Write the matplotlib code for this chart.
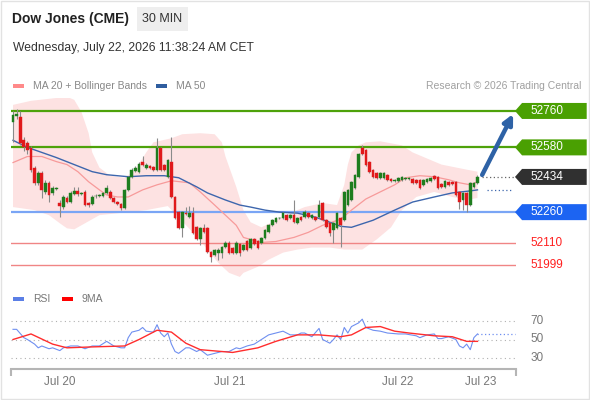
import matplotlib
matplotlib.use("Agg")
import matplotlib.pyplot as plt
from matplotlib.patches import Polygon, Rectangle
from matplotlib.transforms import blended_transform_factory
import numpy as np

plt.rcParams["font.family"] = ["Liberation Sans", "DejaVu Sans"]

# 30 min candles, Dow Jones (CME)
opens = [52705, 52735, 52730, 52615, 52600, 52575, 52480, 52405, 52455, 52360,
         52405, 52355, 52375, 52305, 52285, 52330, 52310, 52350, 52365, 52350,
         52360, 52305, 52300, 52338, 52342, 52340, 52355, 52360, 52330, 52310,
         52300, 52280, 52370, 52435, 52465, 52460, 52510, 52480, 52490, 52485,
         52470, 52575, 52495, 52435, 52510, 52335, 52260, 52180, 52258, 52235,
         52255, 52185, 52125, 52180, 52180, 52065, 52050, 52060, 52060, 52090,
         52110, 52085, 52060, 52105, 52075, 52115, 52085, 52125, 52115, 52110,
         52130, 52160, 52195, 52210, 52230, 52230, 52245, 52230, 52245, 52205,
         52235, 52235, 52255, 52230, 52235, 52235, 52305, 52220, 52205, 52170,
         52180, 52230, 52220, 52295, 52320, 52380, 52435, 52575, 52565, 52510,
         52470, 52455, 52430, 52430, 52445, 52425, 52415, 52415, 52418, 52426,
         52426, 52425, 52420, 52420, 52395, 52410, 52415, 52440, 52435, 52400,
         52385, 52410, 52410, 52410, 52360, 52320, 52355, 52295, 52385, 52405]
closes = [52740, 52745, 52600, 52580, 52565, 52470, 52405, 52455, 52370, 52405,
          52345, 52380, 52378, 52290, 52335, 52310, 52355, 52365, 52350, 52355,
          52295, 52295, 52335, 52340, 52345, 52355, 52380, 52330, 52310, 52300,
          52280, 52370, 52435, 52470, 52480, 52500, 52495, 52495, 52480, 52470,
          52575, 52470, 52470, 52520, 52335, 52230, 52180, 52260, 52250, 52255,
          52155, 52125, 52180, 52160, 52065, 52040, 52075, 52075, 52090, 52110,
          52060, 52060, 52110, 52060, 52100, 52075, 52125, 52105, 52085, 52130,
          52170, 52195, 52220, 52230, 52232, 52255, 52220, 52245, 52210, 52230,
          52220, 52260, 52235, 52245, 52220, 52295, 52220, 52185, 52155, 52205,
          52255, 52195, 52360, 52370, 52410, 52445, 52545, 52545, 52495, 52460,
          52435, 52430, 52455, 52455, 52420, 52415, 52417, 52430, 52432, 52428,
          52428, 52405, 52405, 52380, 52420, 52425, 52430, 52425, 52380, 52385,
          52415, 52395, 52400, 52345, 52310, 52355, 52295, 52405, 52405, 52434]
highs = [52760, 52770, 52760, 52630, 52610, 52585, 52490, 52465, 52465, 52420,
         52415, 52390, 52385, 52320, 52345, 52340, 52365, 52385, 52385, 52362,
         52370, 52310, 52345, 52348, 52350, 52362, 52395, 52370, 52335, 52315,
         52305, 52375, 52440, 52480, 52490, 52510, 52535, 52505, 52495, 52490,
         52625, 52580, 52500, 52525, 52630, 52340, 52265, 52265, 52285, 52290,
         52285, 52190, 52185, 52200, 52185, 52070, 52080, 52085, 52095, 52115,
         52115, 52090, 52115, 52110, 52105, 52120, 52130, 52130, 52120, 52135,
         52175, 52200, 52225, 52235, 52238, 52260, 52250, 52250, 52320, 52235,
         52240, 52270, 52260, 52250, 52240, 52320, 52310, 52225, 52210, 52210,
         52260, 52235, 52365, 52375, 52415, 52450, 52550, 52590, 52570, 52515,
         52475, 52460, 52460, 52460, 52450, 52430, 52422, 52435, 52437, 52433,
         52433, 52430, 52425, 52425, 52425, 52430, 52435, 52445, 52440, 52405,
         52420, 52415, 52415, 52415, 52365, 52360, 52360, 52410, 52410, 52445]
lows = [52605, 52720, 52590, 52560, 52545, 52460, 52395, 52395, 52330, 52350,
        52310, 52345, 52370, 52235, 52275, 52305, 52305, 52345, 52340, 52345,
        52290, 52285, 52295, 52330, 52335, 52335, 52350, 52325, 52305, 52295,
        52270, 52275, 52365, 52430, 52460, 52455, 52490, 52475, 52475, 52465,
        52465, 52465, 52465, 52430, 52330, 52225, 52175, 52135, 52245, 52230,
        52150, 52120, 52100, 52155, 52060, 52015, 52045, 52025, 52035, 52085,
        52055, 52055, 52055, 52045, 52070, 52070, 52080, 52100, 52080, 52105,
        52125, 52155, 52190, 52205, 52225, 52225, 52215, 52225, 52205, 52200,
        52215, 52230, 52230, 52225, 52215, 52230, 52215, 52180, 52140, 52110,
        52175, 52090, 52215, 52290, 52315, 52375, 52430, 52540, 52490, 52455,
        52430, 52425, 52425, 52425, 52415, 52410, 52410, 52410, 52413, 52421,
        52421, 52400, 52400, 52375, 52390, 52405, 52410, 52420, 52375, 52380,
        52380, 52390, 52395, 52340, 52275, 52270, 52260, 52290, 52380, 52400]

# indicators (sampled at bar index)
ma20_idx = [0, 4, 8, 12, 15, 18, 21, 24, 26, 29, 32, 36, 40, 44, 49, 52, 56, 59, 62, 64,
            69, 73, 78, 82, 86, 91, 94, 98, 102, 106, 109, 113, 117, 121, 124, 127, 129]
ma20 = [52505, 52535, 52535, 52510, 52495, 52460, 52410, 52370, 52345, 52335,
        52335, 52370, 52395, 52415, 52405, 52360, 52295, 52245, 52195, 52135,
        52110, 52115, 52135, 52160, 52195, 52225, 52270, 52325, 52360, 52395,
        52430, 52440, 52435, 52420, 52405, 52395, 52410]
ma50_idx = [0, 4, 8, 12, 17, 22, 26, 32, 37, 42, 46, 51, 54, 59, 63, 66, 70, 74, 79, 84,
            88, 91, 94, 100, 106, 111, 117, 122, 127, 129]
ma50 = [52615, 52580, 52555, 52530, 52495, 52460, 52445, 52435, 52440, 52440,
        52430, 52385, 52355, 52320, 52295, 52285, 52270, 52260, 52255, 52235,
        52210, 52190, 52185, 52220, 52270, 52310, 52335, 52355, 52365, 52370]
bb_up_idx = [0, 5, 10, 15, 17, 19, 21, 22, 24, 27, 31, 34, 37, 39, 44, 47, 52, 56, 58, 59,
             62, 64, 66, 69, 73, 77, 81, 86, 90, 92, 93, 94, 96, 98, 102, 108, 111, 115,
             119, 126, 129]
bb_up = [52790, 52810, 52820, 52830, 52815, 52755, 52650, 52555, 52480, 52440,
         52430, 52470, 52555, 52605, 52625, 52645, 52650, 52645, 52605, 52535,
         52385, 52270, 52210, 52185, 52220, 52255, 52285, 52305, 52295, 52395,
         52495, 52555, 52590, 52605, 52610, 52590, 52555, 52525, 52495, 52470, 52460]
bb_lo_idx = [0, 6, 10, 13, 15, 17, 19, 24, 32, 37, 43, 47, 51, 54, 57, 60, 63, 64, 68, 71,
             75, 79, 83, 88, 92, 97, 101, 105, 108, 112, 117, 122, 126, 129]
bb_lo = [52285, 52270, 52245, 52205, 52180, 52175, 52195, 52245, 52260, 52270,
         52290, 52215, 52140, 52075, 52010, 51960, 51940, 51960, 51990, 52025,
         52060, 52075, 52085, 52085, 52075, 52075, 52125, 52185, 52270, 52335,
         52360, 52335, 52320, 52330]

rsi_idx = [0, 1, 3, 4, 6, 7, 8, 10, 11, 13, 14, 16, 18, 20, 22, 24, 26, 28, 30, 31,
           32, 33, 35, 36, 37, 39, 40, 41, 42, 43, 44, 45, 46, 48, 49, 51, 52, 54, 56, 58,
           60, 62, 63, 65, 67, 69, 71, 73, 75, 77, 79, 80, 81, 83, 85, 86, 88, 89, 90, 91,
           92, 93, 94, 96, 97, 98, 100, 102, 104, 107, 109, 112, 113, 115, 117, 118, 119,
           121, 123, 124, 125, 126, 127, 128, 129]
rsi = [61, 61, 52, 50, 45, 41, 43, 40, 41, 38, 41, 43, 43, 40, 43, 43, 48, 43, 41, 41,
       52, 58, 60, 63, 59, 58, 66, 57, 53, 57, 45, 37, 35, 41, 41, 37, 39, 33, 35, 37,
       37, 41, 40, 43, 45, 50, 55, 57, 59, 55, 55, 57, 57, 53, 62, 50, 46, 50, 55, 50,
       63, 57, 64, 68, 72, 63, 60, 59, 57, 56, 56, 54, 52, 55, 56, 51, 51,
       53, 50, 43, 41, 45, 39, 52, 56]
ma9_idx = [0, 5, 11, 15, 22, 31, 35, 40, 44, 48, 52, 61, 68, 73, 79, 85, 91, 94, 98, 102,
           106, 110, 117, 122, 126, 129]
rsi_ma9 = [50, 56, 45, 41, 42, 43, 50, 60, 58, 46, 39, 36, 41, 48, 55, 55, 53, 55, 63, 64,
           59, 57, 54, 53, 48, 48]

resistances = [52760, 52580]
pivot = 52260
supports = [52110, 51999]
rsi_levels = [70, 50, 30]

tick_pos = [13, 60.3, 106.9, 130]
tick_labels = ["Jul 20", "Jul 21", "Jul 22", "Jul 23"]

W, H = 590, 400
XLIM = (-0.56, 139.7)


def fx(x):
    return x / W


def fy(y):
    return 1 - y / H


def tag(ax, level, color, text_color="white", box=True):
    tr = blended_transform_factory(ax.transAxes, ax.transData)
    y0, y1 = ax.get_ylim()
    h = (y1 - y0) / (ax.get_position().height * H) * 8
    if box:
        pts = [(0.998, level), (1.012, level + h), (1.14, level + h),
               (1.14, level - h), (1.012, level - h)]
        ax.add_patch(Polygon(pts, closed=True, transform=tr, clip_on=False,
                             facecolor=color, edgecolor="none", zorder=6))
    ax.text(1.028, level, str(level), transform=tr, color=text_color,
            fontsize=8.5, va="center", ha="left", zorder=7)


def draw():
    fig = plt.figure(figsize=(W / 100, H / 100), dpi=100)
    fig.patches.append(Rectangle((0.002, 0.003), 0.996, 0.994, transform=fig.transFigure,
                                 fill=False, edgecolor="#e2e2e2", lw=1))

    # header
    fig.text(fx(12), fy(19), "Dow Jones (CME)", fontsize=10, fontweight="bold",
             color="#222222", va="center")
    fig.patches.append(Rectangle((fx(137), fy(31)), fx(51), 24 / H, transform=fig.transFigure,
                                 facecolor="#eeeeee", edgecolor="none"))
    fig.text(fx(162.5), fy(19), "30 MIN", fontsize=9, color="#333333", va="center", ha="center")
    fig.text(fx(13), fy(48), "Wednesday, July 22, 2026 11:38:24 AM CET", fontsize=8.7,
             color="#333333", va="center")

    # legends
    for x0, col, label in [(13, "#ff8a8a", "MA 20 + Bollinger Bands"), (156, "#2f5d9f", "MA 50")]:
        fig.patches.append(Rectangle((fx(x0), fy(88)), fx(11), 4 / H, transform=fig.transFigure,
                                     facecolor=col, edgecolor="none"))
        fig.text(fx(x0 + 20), fy(86), label, fontsize=7.5, color="#888888", va="center")
    fig.text(fx(581), fy(86), "Research \u00a9 2026 Trading Central", fontsize=7.5,
             color="#a0a0a0", va="center", ha="right")
    for x0, col, label in [(13, "#5b7fe6", "RSI"), (62, "#ff0000", "9MA")]:
        fig.patches.append(Rectangle((fx(x0), fy(301)), fx(11), 4 / H, transform=fig.transFigure,
                                     facecolor=col, edgecolor="none"))
        fig.text(fx(x0 + 20), fy(299), label, fontsize=7.5, color="#777777", va="center")

    # price panel
    ax = fig.add_axes([fx(11), fy(285), fx(505), 187 / H])
    ax.set_xlim(*XLIM)
    ax.set_ylim(51900, 52824)
    ax.axis("off")

    ax.fill(np.r_[bb_up_idx, bb_lo_idx[::-1]], np.r_[bb_up, bb_lo[::-1]],
            color="#fde2e2", lw=0, zorder=1)

    for lvl in resistances:
        ax.axhline(lvl, color="#4ea20a", lw=1.6, zorder=2)
    ax.axhline(pivot, color="#7aa5f5", lw=1.6, zorder=2)
    for lvl in supports:
        ax.axhline(lvl, color="#f08585", lw=1.0, zorder=2)

    ax.plot(ma20_idx, ma20, color="#f79a9a", lw=0.9, zorder=3)
    ax.plot(ma50_idx, ma50, color="#3d66ad", lw=1.0, zorder=3)

    idx = np.arange(len(closes))
    o = np.array(opens)
    c = np.array(closes)
    cols = np.where(c >= o, "#1e7d1e", "#e0191b")
    ax.vlines(idx, lows, highs, color="#8a8a8a", lw=0.8, zorder=4)
    ax.bar(idx, np.maximum(np.abs(c - o), 3), bottom=np.minimum(o, c), width=0.74,
           color=cols, edgecolor=cols, lw=0.3, zorder=5)

    n = len(closes)
    ax.plot([n + 0.3, XLIM[1]], [closes[-1]] * 2, ls=(0, (1, 2)), color="#666666", lw=0.9)
    ax.plot([n + 1.7, n + 8.9], [ma50[-1]] * 2, ls=(0, (1, 2)), color="#3d66ad", lw=0.9)

    ax.annotate("", xy=(n + 8.9, resistances[0] - 15), xytext=(n + 0.3, closes[-1] + 10),
                arrowprops=dict(arrowstyle="-|>", lw=3.2, color="#2e62a6",
                                mutation_scale=14, shrinkA=0, shrinkB=0), zorder=6)

    for lvl in resistances:
        tag(ax, lvl, "#4aa002")
    tag(ax, closes[-1], "#303030")
    tag(ax, pivot, "#1c64f2")
    for lvl in supports:
        tag(ax, lvl, None, text_color="#ff1f1f", box=False)

    # RSI panel
    rax = fig.add_axes([fx(11), fy(369), fx(505), 59 / H])
    rax.set_xlim(*XLIM)
    rax.set_ylim(18.1, 81.9)
    for lvl in rsi_levels:
        rax.axhline(lvl, color="#b0b0b0", lw=0.8, ls=(0, (1, 3)))
    rax.plot(rsi_idx, rsi, color="#6f8ff0", lw=0.8)
    rax.plot(ma9_idx, rsi_ma9, color="#ff2d2d", lw=1.0)
    rax.plot([rsi_idx[-1], XLIM[1] - 0.3], [rsi[-1]] * 2, ls=(0, (1, 2)), color="#6f8ff0", lw=0.9)
    tr = blended_transform_factory(rax.transAxes, rax.transData)
    for lvl in rsi_levels:
        rax.text(1.028, lvl, str(lvl), transform=tr, color="#777777", fontsize=8.5, va="center")

    for s in ["top", "left", "right"]:
        rax.spines[s].set_visible(False)
    rax.spines["bottom"].set_color("#b5b5b5")
    rax.spines["bottom"].set_linewidth(1.5)
    rax.set_yticks([])
    rax.set_xticks(tick_pos, tick_labels)
    rax.tick_params(axis="x", length=0, pad=5, labelsize=8.5, labelcolor="#777777")
    rax.set_xticks(list(XLIM), minor=True)
    rax.tick_params(axis="x", which="minor", length=5, width=1.5, color="#b5b5b5")

    fig.savefig("out.png", dpi=100)
    plt.close()


if __name__ == "__main__":
    draw()
